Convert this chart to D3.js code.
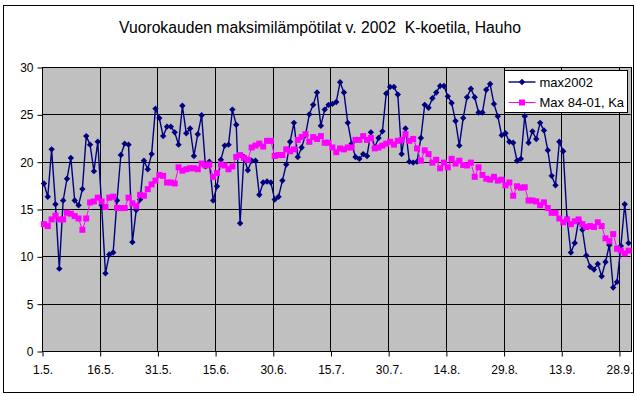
<!DOCTYPE html>
<html>
<head>
<meta charset="utf-8">
<script src="https://cdn.jsdelivr.net/npm/d3@7"></script>
<style>
  body { margin: 0; background: #fff; }
  svg { display: block; }
  text { font-family: "Liberation Sans", Arial, sans-serif; fill: #000; }
</style>
</head>
<body>
<svg id="chart" width="636" height="396"></svg>
<script>
// daily max temperature 1.5.-30.9.2002, one value per day
var max2002 = [
  17.7, 16.3, 21.3, 15.5, 8.7, 15.9, 18.2, 20.4, 15.9, 15.4,
  17.1, 22.7, 21.8, 19.0, 22.1, 15.4, 8.2, 10.2, 10.4, 15.9,
  20.7, 21.9, 21.8, 11.5, 14.9, 16.0, 20.1, 19.2, 20.8, 25.6,
  24.6, 22.7, 23.7, 23.7, 23.1, 21.8, 25.9, 23.0, 23.5, 20.6,
  22.9, 24.9, 19.5, 20.0, 15.9, 17.4, 20.2, 21.7, 21.8, 25.5,
  23.9, 13.5, 20.5, 19.1, 20.1, 20.1, 16.5, 17.8, 17.9, 17.8,
  16.0, 16.3, 18.0, 19.7, 22.1, 24.1, 20.5, 21.5, 22.8, 25.0,
  26.0, 27.3, 23.8, 25.5, 26.0, 26.1, 26.3, 28.4, 27.3, 24.1,
  21.9, 20.5, 20.3, 20.8, 20.6, 23.1, 21.5, 22.5, 23.2, 27.2,
  27.9, 27.9, 27.1, 20.8, 23.5, 20.0, 19.9, 20.0, 22.5, 26.0,
  25.7, 26.7, 27.3, 28.0, 28.0, 26.9, 26.2, 24.3, 21.7, 24.6,
  26.8, 27.7, 26.8, 25.2, 25.2, 27.6, 28.2, 26.1, 24.8, 22.8,
  23.0, 22.1, 22.0, 20.1, 20.3, 24.8, 22.0, 23.2, 22.4, 24.1,
  23.3, 21.2, 18.5, 17.5, 22.1, 21.1, 14.0, 10.4, 11.4, 13.8,
  12.8, 10.1, 8.9, 8.6, 9.2, 7.9, 9.4, 11.2, 6.7, 7.3,
  11.1, 15.5, 11.4
];
// long term mean 1984-2001
var max8401 = [
  13.4, 13.2, 13.9, 14.3, 13.9, 13.9, 14.6, 14.5, 14.25, 14.0,
  12.8, 14.0, 15.7, 15.8, 16.2, 15.8, 15.2, 16.2, 16.3, 15.1,
  15.1, 15.1, 16.2, 15.6, 15.3, 16.5, 16.4, 17.1, 17.6, 18.0,
  18.6, 18.5, 17.8, 17.8, 17.7, 19.4, 19.05, 19.2, 19.3, 19.3,
  19.2, 19.8, 19.6, 19.7, 18.4, 18.8, 19.7, 19.6, 19.2, 19.5,
  20.5, 20.7, 20.4, 20.2, 21.5, 21.7, 21.9, 21.6, 22.2, 22.2,
  20.6, 20.7, 20.7, 21.3, 21.1, 21.3, 22.3, 22.6, 22.9, 22.1,
  22.6, 22.4, 22.7, 22.0, 22.0, 21.5, 21.0, 21.4, 21.3, 21.5,
  21.5, 22.3, 22.3, 22.7, 22.3, 22.5, 21.4, 21.5, 21.7, 21.9,
  22.1, 21.8, 22.2, 22.3, 22.9, 22.2, 22.4, 21.4, 20.1, 21.2,
  20.8, 19.9, 20.2, 19.3, 19.9, 19.4, 20.3, 19.8, 20.1, 19.65,
  19.6, 19.9, 18.4, 19.4, 18.6, 18.2, 18.1, 18.4, 18.0, 18.1,
  17.5, 17.8, 16.4, 17.4, 17.25, 17.3, 15.9, 15.9, 15.8, 15.4,
  15.7, 15.1, 14.6, 14.6, 14.0, 13.6, 13.9, 13.4, 13.7, 13.9,
  13.4, 13.1, 13.2, 13.1, 13.6, 13.2, 11.9, 11.6, 12.35, 10.8,
  10.6, 10.3, 10.6
];
var tickLabels = ["1.5.", "16.5.", "31.5.", "15.6.", "30.6.", "15.7.", "30.7.", "14.8.", "29.8.", "13.9.", "28.9."];
var tickDays = [0, 15, 30, 45, 60, 75, 90, 105, 120, 135, 150];
var yTicks = [0, 5, 10, 15, 20, 25, 30];
var seriesNames = ["max2002", "Max 84-01, Ka"];

var svg = d3.select("#chart");
var nDays = max2002.length;

var x = d3.scaleLinear().domain([0, nDays]).range([42, 630.5]);
var y = d3.scaleLinear().domain([0, 30]).range([351, 67]);

function crisp(v) { return Math.round(v) + 0.5; }

// chart area frame
svg.append("rect")
  .attr("x", 3.5).attr("y", 5.5)
  .attr("width", 630).attr("height", 387)
  .attr("fill", "#fff").attr("stroke", "#000");

svg.append("text")
  .attr("x", 320).attr("y", 33)
  .attr("text-anchor", "middle")
  .attr("textLength", 402)
  .attr("lengthAdjust", "spacingAndGlyphs")
  .style("font-size", "16px")
  .text("Vuorokauden maksimilämpötilat v. 2002\u00a0\u00a0K-koetila, Hauho");

// plot area
svg.append("rect")
  .attr("x", crisp(x(0))).attr("y", crisp(y(30)))
  .attr("width", Math.round(x(nDays)) - Math.round(x(0)))
  .attr("height", Math.round(y(0)) - Math.round(y(30)))
  .attr("fill", "#c0c0c0");

var grid = svg.append("g");
grid.selectAll("line.h")
  .data(yTicks)
  .enter().append("line")
  .attr("x1", x(0)).attr("x2", x(nDays))
  .attr("y1", function (d) { return crisp(y(d)); })
  .attr("y2", function (d) { return crisp(y(d)); })
  .attr("stroke", "#000");
grid.selectAll("line.v")
  .data(tickDays)
  .enter().append("line")
  .attr("x1", function (d) { return crisp(x(d)); })
  .attr("x2", function (d) { return crisp(x(d)); })
  .attr("y1", y(30)).attr("y2", y(0))
  .attr("stroke", "#000");

svg.append("rect")
  .attr("x", crisp(x(0))).attr("y", crisp(y(30)))
  .attr("width", Math.round(x(nDays)) - Math.round(x(0)))
  .attr("height", Math.round(y(0)) - Math.round(y(30)))
  .attr("fill", "none").attr("stroke", "#000");

// axes
var yAxis = d3.axisLeft(y).tickValues(yTicks).tickSize(5).tickPadding(4)
  .tickFormat(d3.format("d"));
svg.append("g")
  .attr("transform", "translate(" + crisp(x(0)) + ",0.5)")
  .call(yAxis)
  .call(function (g) {
    g.select(".domain").remove();
    g.selectAll("text").style("font-size", "12px").attr("fill", "#000");
  });

var xAxis = d3.axisBottom(x).tickValues(tickDays).tickSize(5).tickPadding(9)
  .tickFormat(function (d, i) { return tickLabels[i]; });
svg.append("g")
  .attr("transform", "translate(0.5," + crisp(y(0)) + ")")
  .call(xAxis)
  .call(function (g) {
    g.select(".domain").remove();
    g.selectAll("text").style("font-size", "12px").attr("fill", "#000");
  });

// series
var cx = function (d, i) { return x(i + 0.5); };
var line = d3.line().x(cx).y(function (d) { return y(d); });

svg.append("path")
  .datum(max2002)
  .attr("d", line)
  .attr("fill", "none")
  .attr("stroke", "#000080")
  .attr("stroke-width", 1.4);

var diamond = d3.symbol().type(d3.symbolDiamond2).size(26);
svg.append("g").selectAll("path")
  .data(max2002)
  .enter().append("path")
  .attr("d", diamond)
  .attr("transform", function (d, i) { return "translate(" + cx(d, i) + "," + y(d) + ")"; })
  .attr("fill", "#000080");

svg.append("path")
  .datum(max8401)
  .attr("d", line)
  .attr("fill", "none")
  .attr("stroke", "#ff00ff")
  .attr("stroke-width", 1);

svg.append("g").selectAll("rect")
  .data(max8401)
  .enter().append("rect")
  .attr("x", function (d, i) { return cx(d, i) - 3; })
  .attr("y", function (d) { return y(d) - 3; })
  .attr("width", 6).attr("height", 6)
  .attr("fill", "#ff00ff");

// legend
var legend = svg.append("g").attr("transform", "translate(504.5,70.5)");
legend.append("rect")
  .attr("width", 123).attr("height", 42)
  .attr("fill", "#fff").attr("stroke", "#000");
var colors = ["#000080", "#ff00ff"];
seriesNames.forEach(function (name, i) {
  var ly = 11.5 + i * 20.5;
  legend.append("line")
    .attr("x1", 4).attr("x2", 31).attr("y1", ly).attr("y2", ly)
    .attr("stroke", colors[i]).attr("stroke-width", i == 0 ? 1.4 : 1);
  if (i == 0) {
    legend.append("path").attr("d", diamond)
      .attr("transform", "translate(17.5," + ly + ")").attr("fill", colors[i]);
  } else {
    legend.append("rect").attr("x", 14.5).attr("y", ly - 3)
      .attr("width", 6).attr("height", 6).attr("fill", colors[i]);
  }
  legend.append("text")
    .attr("x", 35).attr("y", ly + 4.5)
    .style("font-size", "13px")
    .text(name);
});
</script>
</body>
</html>
